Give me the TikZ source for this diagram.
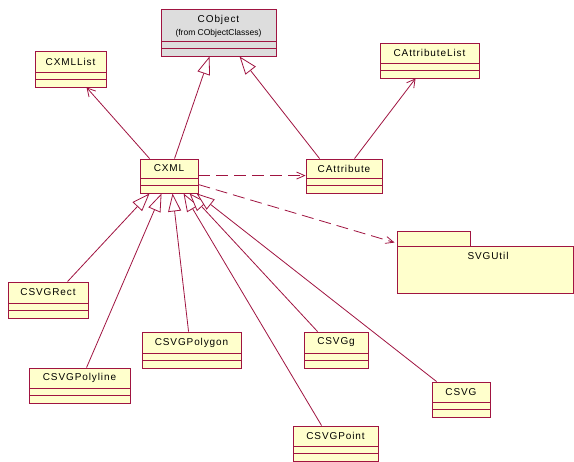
\documentclass[tikz,border=0pt]{standalone}
\usepackage{fontspec}
\setmainfont{Liberation Sans}
\newfontfamily\clsfont[LetterSpace=9]{Liberation Sans}
\usetikzlibrary{arrows.meta,calc}
\definecolor{rose}{RGB}{160,20,65}
\definecolor{clsfill}{RGB}{255,255,204}
\definecolor{objfill}{RGB}{221,221,221}
\tikzset{
  cls/.style={draw=rose, fill=clsfill, line width=0.9pt, inner sep=0pt, rectangle},
  ctext/.style={font=\clsfont\fontsize{10}{12}\selectfont, inner sep=0pt, text=black},
  cline/.style={draw=rose, line width=0.9pt},
  gen/.style={draw=rose, line width=0.8pt, -{Triangle[length=18pt,width=13pt,fill=white]}},
  assoc/.style={draw=rose, line width=0.8pt, -{Straight Barb[length=8pt,width=9pt]}},
  dep/.style={draw=rose, line width=0.8pt, dash pattern=on 12pt off 6pt, -{Straight Barb[length=8pt,width=7pt]}},
}
% \uclass[fill]{name}{x1}{y1}{x2}{y2}
\newcommand{\uclass}[6][clsfill]{%
  \node[cls, fill=#1, minimum width=#5pt-#3pt, minimum height=#6pt-#4pt] (#2) at ({(#3+#5)/2},{(#4+#6)/2}) {};
  \draw[cline] (#3,#6-15) -- (#5,#6-15) (#3,#6-8) -- (#5,#6-8);
}
\begin{document}
\begin{tikzpicture}[x=1pt,y=-1pt]
\fill[white] (0,0) rectangle (574,462);
\useasboundingbox (0,0) rectangle (574,462);

\uclass[objfill]{cobject}{161}{9}{276}{56}
\node[ctext, align=center] (cobject-t) at (218.5,26) {CObject\\[1pt]{\fontsize{8.5}{10}\selectfont\addfontfeature{LetterSpace=0}(from CObjectClasses)}};

\uclass{cxmllist}{35}{51}{106}{87}
\node[ctext] (cxmllist-t) at (70.5,61.5) {CXMLList};

\uclass{cattrlist}{380}{43}{479}{78}
\node[ctext] (cattrlist-t) at (429.5,53) {CAttributeList};

\uclass{cxml}{140}{159}{198}{193}
\node[ctext] (cxml-t) at (169,168.5) {CXML};

\uclass{cattr}{306}{159}{382}{193}
\node[ctext] (cattr-t) at (344,168.5) {CAttribute};

\uclass{csvgrect}{8}{282}{88}{318}
\node[ctext] (csvgrect-t) at (48,292.5) {CSVGRect};

\uclass{csvgpolyline}{29}{368}{130}{403}
\node[ctext] (csvgpolyline-t) at (79.5,378) {CSVGPolyline};

\uclass{csvgpolygon}{142}{332}{241}{368}
\node[ctext] (csvgpolygon-t) at (191.5,342.5) {CSVGPolygon};

\uclass{csvgg}{304}{332}{368}{368}
\node[ctext] (csvgg-t) at (336,342.5) {CSVGg};

\uclass{csvg}{432}{382}{490}{417}
\node[ctext] (csvg-t) at (461,392) {CSVG};

\uclass{csvgpoint}{293}{426}{378}{461}
\node[ctext] (csvgpoint-t) at (335.5,436) {CSVGPoint};

% package
\node[cls, minimum width=73pt, minimum height=15pt] (svgtab) at (433.5,238.5) {};
\node[cls, minimum width=176pt, minimum height=47pt] (svgutil) at (485,269.5) {};
\node[ctext] (svgutil-t) at (488,256) {SVGUtil};

% connectors
\draw[gen] ($(cxml.north west)+(35,0)$) -- ($(cobject.south west)+(49,0)$);
\draw[gen] ($(cattr.north west)+(14,0)$) -- ($(cobject.south west)+(79,0)$);
\draw[assoc] ($(cxml.north west)+(10,0)$) -- ($(cxmllist.south west)+(52,0)$);
\draw[assoc] ($(cattr.north west)+(49,0)$) -- ($(cattrlist.south west)+(36,0)$);
\draw[dep] ($(cxml.north east)+(0,17)$) -- ($(cattr.north west)+(0,17)$);
\draw[dep] ($(cxml.north east)+(0,26)$) -- ($(svgutil.north west)+(-2,-3)$);

\draw[gen] ($(csvgrect.north west)+(60,0)$) -- ($(cxml.south west)+(10,0)$);
\draw[gen] ($(csvgpolyline.north west)+(58,0)$) -- ($(cxml.south west)+(22,0)$);
\draw[gen] ($(csvgpolygon.north west)+(47,0)$) -- ($(cxml.south west)+(33,0)$);
\draw[gen] ($(csvgpoint.north west)+(29,0)$) -- ($(cxml.south west)+(44,0)$);
\draw[gen] ($(csvgg.north west)+(14,0)$) -- ($(cxml.south west)+(50,0)$);
\draw[gen] ($(csvg.north west)+(5,0)$) -- ($(cxml.south west)+(57,0)$);
\end{tikzpicture}
\end{document}
